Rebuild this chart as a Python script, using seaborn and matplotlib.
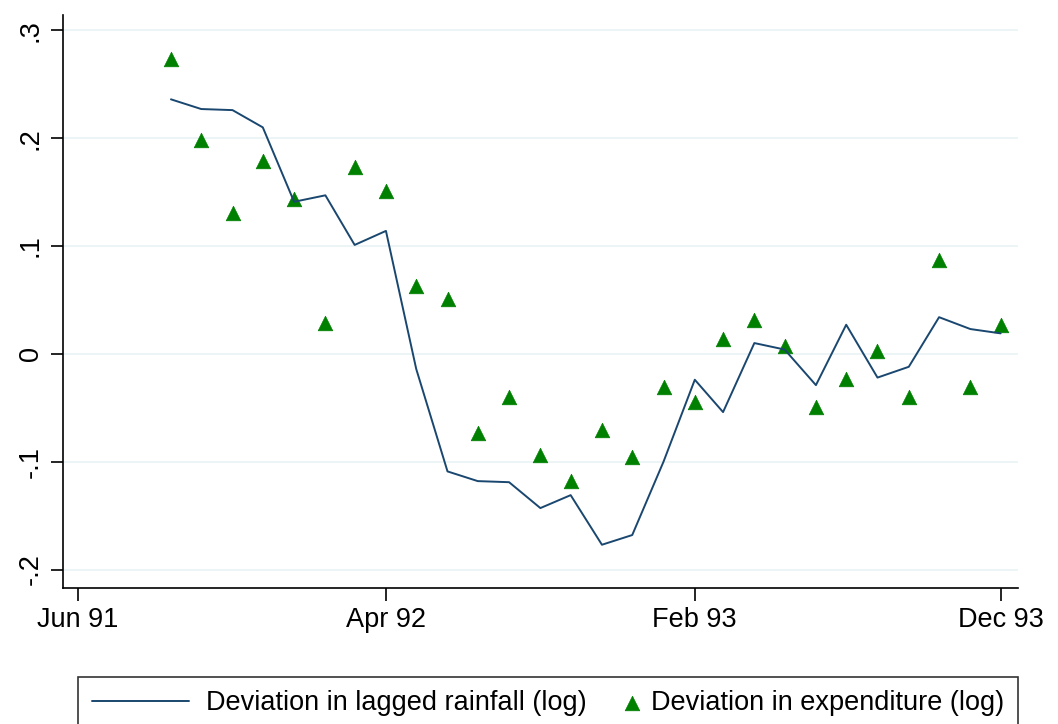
import numpy as np
import pandas as pd
import matplotlib
matplotlib.use("Agg")
import matplotlib.pyplot as plt
from matplotlib.legend_handler import HandlerPathCollection
import seaborn as sns

# monthly observations, Sep 1991 - Dec 1993
months = pd.date_range("1991-09-01", "1993-12-01", freq="MS")

rainfall_dev = [0.236, 0.227, 0.226, 0.210, 0.141, 0.147, 0.101, 0.114,
                -0.014, -0.109, -0.118, -0.119, -0.143, -0.131, -0.177, -0.168,
                -0.100, -0.024, -0.054, 0.010, 0.004, -0.029, 0.027, -0.022,
                -0.012, 0.034, 0.023, 0.019]

expenditure_dev = [0.273, 0.198, 0.131, 0.179, 0.144, 0.029, 0.173, 0.151,
                   0.063, 0.051, -0.073, -0.040, -0.094, -0.118, -0.071, -0.096,
                   -0.031, -0.045, 0.014, 0.031, 0.007, -0.049, -0.023, 0.003,
                   -0.040, 0.087, -0.031, 0.027]

tick_dates = pd.to_datetime(["1991-06-01", "1992-04-01", "1993-02-01", "1993-12-01"])
tick_labels = ["Jun 91", "Apr 92", "Feb 93", "Dec 93"]
y_ticks = [-0.2, -0.1, 0, 0.1, 0.2, 0.3]
y_labels = ["-.2", "-.1", "0", ".1", ".2", ".3"]

df = pd.DataFrame({"month": months, "rain": rainfall_dev, "exp": expenditure_dev})


class RightMarker(HandlerPathCollection):
    """Puts the legend marker at the right end of its handle box."""
    def get_xdata(self, legend, xdescent, ydescent, width, height, fontsize):
        x = np.array([width - 0.1 * fontsize - xdescent])
        return x, x


sns.set_style("white")
plt.rcParams["font.family"] = ["Liberation Sans", "DejaVu Sans"]
plt.rcParams["text.color"] = "black"

fig = plt.figure(figsize=(10.58, 7.24), dpi=100)
ax = fig.add_axes([0.0595, 0.188, 0.9025, 0.791])

sns.lineplot(data=df, x="month", y="rain", ax=ax, color="#1a476f", linewidth=1.4,
             label="Deviation in lagged rainfall (log)")
sns.scatterplot(data=df, x="month", y="exp", ax=ax, color="#008000", marker="^",
                s=110, edgecolor="#008000", linewidth=0.5,
                label="Deviation in expenditure (log)")

ax.set_xlim(pd.Timestamp("1991-05-17"), pd.Timestamp("1993-12-18"))
ax.set_ylim(-0.217, 0.314)
ax.set_xticks(tick_dates)
ax.set_xticklabels(tick_labels, fontsize=19.5, color="black")
ax.set_yticks(y_ticks)
ax.set_yticklabels(y_labels, fontsize=19.5, rotation=90, va="center", color="black")
ax.set_xlabel("")
ax.set_ylabel("")
ax.grid(axis="y", color="#eaf2f3", linewidth=1.2)
ax.grid(axis="x", visible=False)

for side in ["top", "right"]:
    ax.spines[side].set_visible(False)
for side in ["left", "bottom"]:
    ax.spines[side].set_color("black")
    ax.spines[side].set_linewidth(1.2)
ax.tick_params(axis="both", direction="out", length=9, width=1.2, color="black",
               left=True, bottom=True, pad=5)

handles, labels = ax.get_legend_handles_labels()
ax.get_legend().remove()
leg = fig.legend(handles, labels, loc="upper center", bbox_to_anchor=(0.518, 0.065),
                 ncol=2, fontsize=19.5, frameon=True, fancybox=False, edgecolor="black",
                 handlelength=3.6, columnspacing=-1.8, handletextpad=0.6,
                 borderpad=0.5, borderaxespad=0, markerscale=1.0,
                 handler_map={handles[1]: RightMarker()})
leg.get_frame().set_linewidth(1.2)

fig.savefig("out.png", dpi=100)
